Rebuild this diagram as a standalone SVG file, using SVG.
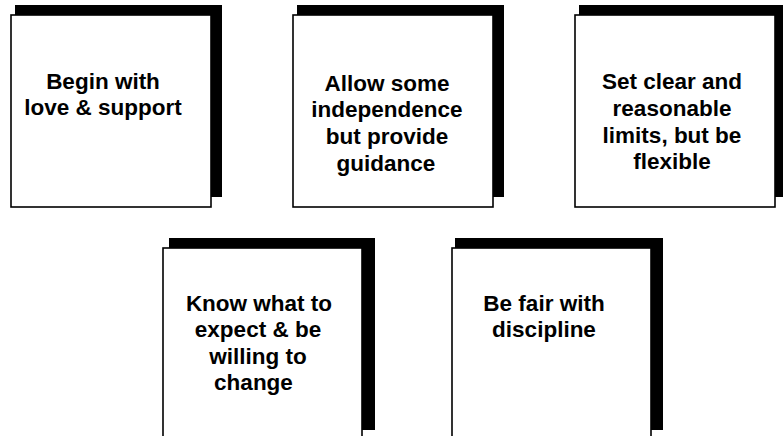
<svg xmlns="http://www.w3.org/2000/svg" width="783" height="436" viewBox="0 0 783 436">
  <style>
    .shadow { fill: #000; }
    .card { fill: #fff; stroke: #000; stroke-width: 1.6; }
    .label { font-family: "Liberation Sans", Arial, sans-serif; font-weight: bold; font-size: 22.5px; fill: #000; text-anchor: middle; }
  </style>
  <rect width="783" height="436" fill="#fff"/>
  <g id="connectors"/>

  <!-- Each card: a black slab behind, offset up and to the right, then the white card -->
  <g id="node-love" transform="translate(11,15)">
    <rect class="shadow" x="4" y="-10" width="207" height="192"/>
    <rect class="card" x="0" y="0" width="200" height="192"/>
    <text class="label" x="92"><tspan x="92" y="73.5">Begin with</tspan><tspan x="92" y="100.2">love &amp; support</tspan></text>
  </g>

  <g id="node-independence" transform="translate(293,15)">
    <rect class="shadow" x="4" y="-10" width="207" height="192"/>
    <rect class="card" x="0" y="0" width="200" height="192"/>
    <text class="label"><tspan x="94" y="75.7">Allow some</tspan><tspan x="94" y="102.4">independence</tspan><tspan x="94" y="129.1">but provide</tspan><tspan x="93" y="155.8">guidance</tspan></text>
  </g>

  <g id="node-limits" transform="translate(575,15)">
    <rect class="shadow" x="4" y="-10" width="207" height="192"/>
    <rect class="card" x="0" y="0" width="200" height="192"/>
    <text class="label"><tspan x="97" y="73.5">Set clear and</tspan><tspan x="97" y="100.8">reasonable</tspan><tspan x="97" y="127.6">limits, but be</tspan><tspan x="97" y="154">flexible</tspan></text>
  </g>

  <g id="node-expect" transform="translate(163,248)">
    <rect class="shadow" x="6" y="-10" width="206" height="192"/>
    <rect class="card" x="0" y="0" width="199" height="200"/>
    <text class="label"><tspan x="96" y="62.7">Know what to</tspan><tspan x="95" y="89">expect &amp; be</tspan><tspan x="95" y="115.5">willing to</tspan><tspan x="90.5" y="142">change</tspan></text>
  </g>

  <g id="node-discipline" transform="translate(452,248)">
    <rect class="shadow" x="3" y="-10" width="208" height="192"/>
    <rect class="card" x="0" y="0" width="199" height="200"/>
    <text class="label"><tspan x="92" y="62.7">Be fair with</tspan><tspan x="92" y="89.3">discipline</tspan></text>
  </g>
</svg>
